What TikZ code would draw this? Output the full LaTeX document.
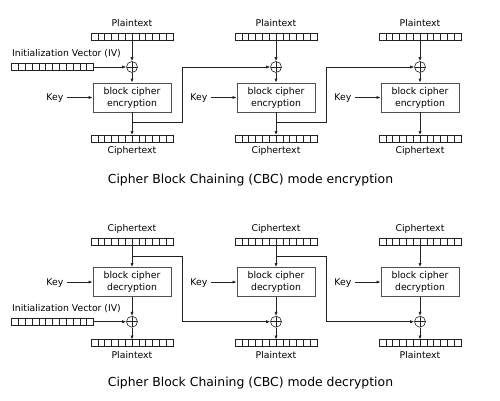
\documentclass[tikz,border=0pt]{standalone}
\usepackage{fontspec}
\setmainfont{DejaVu Sans}
\usetikzlibrary{arrows.meta, positioning}
\definecolor{linegray}{HTML}{222222}
\definecolor{boxgray}{HTML}{505050}
\tikzset{
  lbl/.style={font=\fontsize{9.3}{11.5}\selectfont, inner sep=0pt, anchor=base},
  keylbl/.style={font=\fontsize{9.3}{11.5}\selectfont, inner ysep=0pt, inner xsep=3.5pt, text depth=0pt},
  title/.style={font=\fontsize{12.4}{15}\selectfont, inner sep=0pt, anchor=base},
  regbar/.style={draw=linegray, line width=0.6pt, minimum width=82pt, minimum height=7pt,
    inner sep=0pt, outer sep=0pt,
    path picture={\foreach \k in {1,...,11}
      \draw[linegray, line width=0.6pt] ([xshift=\k*82pt/12]path picture bounding box.south west)
        -- ([xshift=\k*82pt/12]path picture bounding box.north west);}},
  xorop/.style={draw=linegray, line width=0.6pt, circle, minimum size=11pt, inner sep=0pt,
    path picture={\draw[linegray, line width=0.6pt]
      (path picture bounding box.north) -- (path picture bounding box.south)
      (path picture bounding box.west) -- (path picture bounding box.east);}},
  cipherbox/.style={draw=boxgray, line width=0.9pt, minimum width=78pt, minimum height=29pt,
    inner sep=0pt, align=center, font=\fontsize{9.3}{12}\selectfont},
  arr/.style={draw=linegray, line width=0.7pt, -{Latex[length=4pt,width=3.2pt]}}
}
\begin{document}
\begin{tikzpicture}[x=1pt, y=-1pt]
\useasboundingbox (0,0) rectangle (500,401);
\foreach \c/\x in {1/132,2/276,3/420}{
  % encryption
  \node[lbl] (eptl\c) at (\x,27) {Plaintext};
  \node[regbar] (eptb\c) at (\x,36.5) {};
  \node[xorop] (ex\c) at (\x,67) {};
  \node[cipherbox] (enc\c) at (\x,97.5) {block cipher\\encryption};
  \node[keylbl, left=25.5pt of enc\c] (ekey\c) {Key};
  \node[regbar] (ectb\c) at (\x,138.5) {};
  \node[lbl] (ectl\c) at (\x,153.5) {Ciphertext};
  \coordinate (eb\c) at (\x,122);
  \draw[arr] (eptb\c) -- (ex\c);
  \draw[arr] (ex\c) -- (enc\c);
  \draw[arr] (ekey\c) -- (enc\c);
  \draw[arr] (enc\c) -- (ectb\c);
  % decryption
  \node[lbl] (dctl\c) at (\x,231) {Ciphertext};
  \node[regbar] (dctb\c) at (\x,242) {};
  \node[cipherbox] (dec\c) at (\x,282) {block cipher\\decryption};
  \node[keylbl, left=25.5pt of dec\c] (dkey\c) {Key};
  \node[xorop] (dx\c) at (\x,321.7) {};
  \node[regbar] (dptb\c) at (\x,343) {};
  \node[lbl] (dptl\c) at (\x,358.5) {Plaintext};
  \coordinate (db\c) at (\x,256);
  \draw[arr] (dctb\c) -- (dec\c);
  \draw[arr] (dkey\c) -- (dec\c);
  \draw[arr] (dec\c) -- (dx\c);
  \draw[arr] (dx\c) -- (dptb\c);
}
\foreach \c/\n in {1/2,2/3}{
  \draw[arr] (eb\c) -- ++(50,0) |- (ex\n);
  \draw[arr] (db\c) -- ++(50,0) |- (dx\n);
}
\node[lbl, anchor=base west] (eivl) at (12,56.5) {Initialization Vector (IV)};
\node[regbar] (eiv) at (52.5,67) {};
\draw[arr] (eiv) -- (ex1);
\node[lbl, anchor=base west] (divl) at (12,311) {Initialization Vector (IV)};
\node[regbar] (div) at (52.5,321.7) {};
\draw[arr] (div) -- (dx1);
\node[title] (etitle) at (250.5,183) {Cipher Block Chaining (CBC) mode encryption};
\node[title] (dtitle) at (250.5,386) {Cipher Block Chaining (CBC) mode decryption};
\end{tikzpicture}
\end{document}
